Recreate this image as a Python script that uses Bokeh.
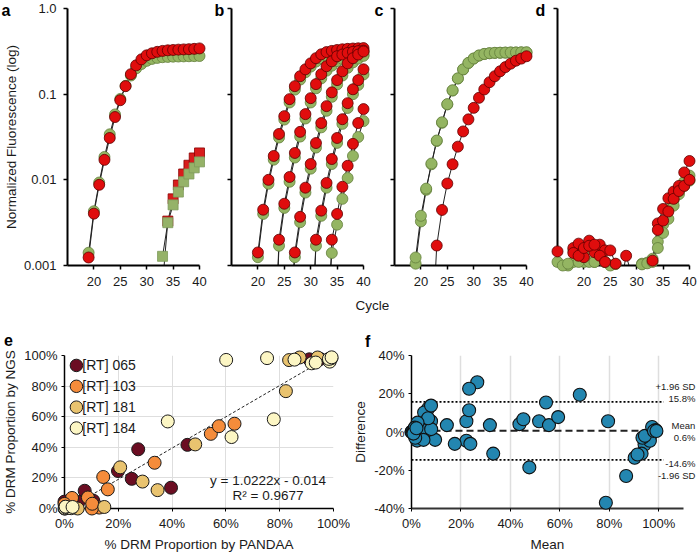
import math
from bokeh.plotting import figure
from bokeh.layouts import column, row
from bokeh.models import Range1d, FixedTicker, Label, NumeralTickFormatter
from bokeh.core.properties import value
from bokeh.embed import file_html
from bokeh.resources import INLINE

N = float("nan")
FONT = "Liberation Sans"

# ---------------- data: qPCR panels (normalized fluorescence) ----------------
A_CYCLES = list(range(19, 41))
A_GREEN = [0.00141, 0.0043, 0.0093, 0.0185, 0.034, 0.058, 0.088, 0.125, 0.165, 0.200, 0.225,
           0.245, 0.258, 0.265, 0.270, 0.272, 0.274, 0.275, 0.276, 0.277, 0.278, 0.279]
A_RED = [0.00124, 0.00403, 0.00875, 0.0171, 0.0308, 0.0541, 0.085, 0.124, 0.171, 0.217, 0.255,
         0.284, 0.300, 0.312, 0.320, 0.325, 0.328, 0.331, 0.333, 0.335, 0.338, 0.342]
A_SQ_CYCLES = list(range(33, 41))
A_RED_SQ = [0.0006, 0.0033, 0.0060, 0.0087, 0.0117, 0.0148, 0.0180, 0.0206]
A_GREEN_SQ = [0.00128, 0.00316, 0.0051, 0.0072, 0.0095, 0.0117, 0.0138, 0.0162]

B_CYCLES = list(range(19, 41))
B_RED = [
    [N, 0.00142, 0.00448, 0.0100, 0.0190, 0.0343, 0.0554, 0.0875, 0.124, 0.162, 0.195, 0.229,
     0.263, 0.292, 0.310, 0.320, 0.328, 0.334, 0.338, 0.341, 0.343, 0.345],
    [N, N, N, N, 5e-5, 0.0020, 0.00526, 0.0108, 0.0206, 0.0363, 0.0585, 0.0898, 0.131, 0.171,
     0.212, 0.242, 0.277, 0.290, 0.303, 0.312, 0.318, 0.322],
    [N, N, N, N, N, N, N, 2e-4, 0.00142, 0.0037, 0.0081, 0.0153, 0.0269, 0.046, 0.0725, 0.105,
     0.146, 0.185, 0.229, 0.263, 0.290, 0.315],
    [N, N, N, N, N, N, N, N, N, N, N, 5e-5, 0.0020, 0.00437, 0.0092, 0.0175, 0.0308, 0.051,
     0.0785, 0.114, 0.146, 0.195],
    [N, N, N, N, N, N, N, N, N, N, N, N, N, N, 5e-5, 0.0020, 0.0040, 0.0083, 0.0146, 0.0263,
     0.046, 0.067],
]
B_GREEN = [
    [N, 0.00125, 0.0040, 0.0090, 0.0172, 0.0312, 0.0505, 0.080, 0.113, 0.148, 0.180, 0.210,
     0.240, 0.262, 0.278, 0.287, 0.293, 0.298, 0.302, 0.305, 0.307, 0.309],
    [N, N, N, N, 5e-5, 0.0017, 0.0047, 0.0095, 0.0182, 0.032, 0.052, 0.080, 0.117, 0.153,
     0.188, 0.215, 0.243, 0.258, 0.270, 0.278, 0.283, 0.287],
    [N, N, N, N, N, N, N, 3e-4, 0.00125, 0.0032, 0.0071, 0.0135, 0.0238, 0.041, 0.064, 0.093,
     0.130, 0.165, 0.203, 0.235, 0.260, 0.280],
    [N, N, N, N, N, N, N, N, N, N, N, 1e-4, 0.0017, 0.0038, 0.0081, 0.0153, 0.027, 0.045,
     0.069, 0.100, 0.128, 0.170],
    [N, N, N, N, N, N, N, N, N, N, N, N, N, N, 2e-4, 0.0014, 0.0030, 0.0060, 0.0105, 0.019,
     0.0316, 0.0485],
]

C_CYCLES = list(range(18, 41))
C_GREEN = [
    [2e-4, 0.00105, 0.00327, 0.00765, 0.0152, 0.0284, 0.0463, 0.0758, 0.110, 0.152, 0.194,
     0.231, 0.260, 0.282, 0.294, 0.300, 0.303, 0.304, 0.305, 0.306, 0.306, 0.307, 0.307],
    [3e-4, 0.00124, 0.0038, 0.0079, 0.0155, 0.0288, 0.047, 0.0765, 0.111, 0.153, 0.195,
     0.232, 0.261, 0.283, 0.295, 0.301, 0.304, 0.305, 0.306, 0.307, 0.307, 0.308, 0.308],
]
C_RED = [
    [N, N, N, N, 1e-4, 0.00171, 0.00445, 0.00906, 0.0152, 0.0244, 0.0367, 0.0508, 0.0692,
     0.0906, 0.1135, 0.138, 0.162, 0.185, 0.207, 0.227, 0.246, 0.260, 0.277],
]

D_CYCLES = list(range(15, 41))
D_GREEN = [
    [0.0011, 0.0009, 0.0010, 0.0011, 0.0015, 0.0011, 0.0018, 0.0011, 0.0013, 0.0011, 0.0010,
     0.0009, 0.0008, 0.0008, 0.0008, 0.0008, 0.00105, 0.00108, 0.0012, 0.0019, 0.0030,
     0.0045, 0.0058, 0.0076, 0.0095, 0.0112],
    [0.0009, 0.0010, 0.00105, 0.0015, 0.0011, 0.0014, 0.0011, 0.0011, 0.0014, 0.0011, 0.0008,
     0.00104, 0.0008, 0.0008, 0.0008, 0.0008, 0.00103, 0.00106, 0.0011, 0.0016, 0.0024,
     0.0035, 0.0050, 0.0068, 0.0085, 0.0098],
]
D_RED = [
    [0.00146, 0.0007, 0.0009, 0.0016, 0.0018, 0.00125, 0.00195, 0.00143, 0.00175, 0.0015,
     0.0015, 0.00105, 0.0006, 0.0013, 0.0008, 0.0007, 0.0008, 0.0009, 0.00114, 0.0031,
     0.00457, 0.0061, 0.0073, 0.0085, 0.0122, 0.0166],
    [0.0008, 0.0008, 0.0009, 0.0014, 0.0013, 0.0016, 0.0017, 0.00175, 0.0013, 0.0011, 0.0009,
     0.0008, 0.0008, 0.0009, 0.0008, 0.0008, 0.0008, 0.0009, 0.0009, 0.0026, 0.00334,
     0.00427, 0.0060, 0.0074, 0.0085, 0.0100],
]

Y_TICKS = [0.001, 0.01, 0.1, 1.0]
Y_TICK_LABELS = ["0.001", "0.01", "0.1", "1.0"]
X_TICKS = [20, 25, 30, 35, 40]

# ---------------- data: DRM proportions (panel e) ----------------
GROUPS = ["[RT] 065", "[RT] 103", "[RT] 181", "[RT] 184"]
PANDAA_065 = [0.396, 0.250, 0.199, 0.274, 0.457, 0.107, 0.053, 0.075, 0.000, 0.010, 0.910, 0.951]
NGS_065 = [0.136, 0.194, 0.245, 0.387, 0.416, 0.051, 0.043, 0.116, 0.045, 0.010, 0.975, 0.977]
PANDAA_103 = [0.144, 0.161, 0.335, 0.544, 0.574, 0.632, 0.129, 0.102, 0.087, 0.028, 0.000, 0.003, 0.103]
NGS_103 = [0.206, 0.125, 0.299, 0.488, 0.538, 0.554, 0.006, 0.000, 0.072, 0.069, 0.030, 0.010, 0.031]
PANDAA_181 = [0.346, 0.290, 0.207, 0.486, 0.823, 0.148, 0.049, 0.835, 0.874, 0.941, 0.010, 0.000]
NGS_181 = [0.120, 0.176, 0.269, 0.419, 0.767, 0.010, 0.000, 0.970, 0.987, 0.987, 0.005, 0.000]
PANDAA_184 = [0.384, 0.621, 0.778, 0.601, 0.753, 0.855, 0.919, 0.934, 0.986, 0.992, 0.983, 0.993,
              0.002, 0.008, 0.015, 0.025, 0.004, 0.030]
NGS_184 = [0.569, 0.467, 0.583, 0.971, 0.983, 0.973, 0.949, 0.954, 0.960, 0.982, 0.978, 0.988,
           0.000, 0.003, 0.005, 0.002, 0.012, 0.010]
FIT_SLOPE = 1.0222
FIT_INTERCEPT = -0.014
FIT_TEXT = "y = 1.0222x - 0.014"
R2_TEXT = "R² = 0.9677"

# ---------------- Bland-Altman limits (panel f) ----------------
BIAS = 0.006
UPPER_LOA = 0.158
LOWER_LOA = -0.146

# ---------------- styles ----------------
RED_FILL, RED_LINE = "#e00d0d", "#5e0000"
GREEN_FILL, GREEN_LINE = "#94b562", "#637f3c"
SQ_RED_FILL, SQ_GREEN_FILL, SQ_GREEN_LINE = "#d81c1c", "#95b268", "#7d9a5a"
CURVE_LINE = "#222222"
GROUP_COLORS = ["#6b0d22", "#f58c3b", "#e9c36f", "#fcf6c4"]
BA_FILL = "#2386b0"
TXT = "#1a1a1a"

YMIN, YMAX = 0.001, 1.0
XMIN, XMAX = 15, 40

# page geometry (px) -- the page has no margin
FT, FB = 8, 265
ROW1_TOP, ROW1_BOTTOM = 0, 316
ROW2_TOP, ROW2_BOTTOM = 316, 554
ET, EB = 355, 509
GEOM = {
    "a": (0, 67, 199, 213),
    "b": (213, 231, 363, 389),
    "c": (389, 394, 526, 534),
    "d": (534, 557, 689, 700),
}


def px_to_cycle(page_x, key):
    fl, fr = GEOM[key][1], GEOM[key][2]
    return XMIN + (page_x - fl) * (XMAX - XMIN) / (fr - fl)


def py_to_log(page_y):
    return 10 ** (math.log10(YMAX) - (page_y - FT) / (FB - FT) * (math.log10(YMAX) - math.log10(YMIN)))


def style_axes(p, tick_size):
    for ax in p.axis:
        ax.axis_line_color = "black"
        ax.major_tick_line_color = "black"
        ax.minor_tick_line_color = None
        ax.major_tick_in = 0
        ax.major_label_text_font = FONT
        ax.major_label_text_font_size = tick_size
        ax.major_label_text_color = TXT
        ax.axis_label_text_font = FONT
        ax.axis_label_text_font_style = "normal"
        ax.axis_label_text_color = TXT


def curve_series(p, cycles, values, marker, size, fill, line):
    p.line(cycles, values, line_color=CURVE_LINE, line_width=1)
    xs = [c for c, v in zip(cycles, values) if v == v and v >= YMIN * 0.999]
    ys = [v for v in values if v == v and v >= YMIN * 0.999]
    p.scatter(xs, ys, marker=marker, size=size, fill_color=fill, line_color=line,
              line_width=0.8, level="overlay")


def free_text(p, x, y, txt, size, align="left", bold=False):
    p.text(x=[x], y=[y], text=[txt], text_font=value(FONT), text_font_size=value(size),
           text_font_style="bold" if bold else "normal", text_align=align,
           text_baseline="middle", text_color="black" if bold else TXT, level="overlay")


def qpcr_fig(key):
    cl, fl, fr, cr = GEOM[key]
    p = figure(width=cr - cl, height=ROW1_BOTTOM - ROW1_TOP,
               x_range=Range1d(XMIN, XMAX), y_range=Range1d(YMIN, YMAX), y_axis_type="log",
               toolbar_location=None, output_backend="svg",
               min_border_left=fl - cl, min_border_right=cr - fr,
               min_border_top=FT - ROW1_TOP, min_border_bottom=ROW1_BOTTOM - FB,
               outline_line_color=None)
    p.grid.visible = False
    style_axes(p, "13px")
    p.xaxis.ticker = FixedTicker(ticks=X_TICKS)
    p.yaxis.ticker = FixedTicker(ticks=Y_TICKS)
    if key == "a":
        p.yaxis.major_label_overrides = dict(zip(Y_TICKS, Y_TICK_LABELS))
        p.yaxis.axis_label = "Normalized Fluorescence (log)"
        p.yaxis.axis_label_text_font_size = "13.5px"
        p.yaxis.axis_label_standoff = 2
        p.yaxis.major_label_standoff = 7
    else:
        p.yaxis.major_label_overrides = {t: "" for t in Y_TICKS}
        p.yaxis.major_label_standoff = 0
    for ax in p.axis:
        ax.axis_line_width = 2
        ax.major_tick_line_width = 1.5
        ax.major_tick_out = 4
    p.xaxis.major_label_standoff = 7
    return p


def letter(p, key, host_key, page_x):
    free_text(p, px_to_cycle(page_x, host_key), py_to_log(10), key, "16px", bold=True)


# ---------- panel a ----------
pa = qpcr_fig("a")
letter(pa, "a", "a", 1)
curve_series(pa, A_CYCLES, A_GREEN, "circle", 11, GREEN_FILL, GREEN_LINE)
curve_series(pa, A_CYCLES, A_RED, "circle", 11, RED_FILL, RED_LINE)
curve_series(pa, A_SQ_CYCLES, A_RED_SQ, "square", 10, SQ_RED_FILL, "#8a0000")
curve_series(pa, A_SQ_CYCLES, A_GREEN_SQ, "square", 10, SQ_GREEN_FILL, SQ_GREEN_LINE)

# ---------- panel b (also hosts the shared "Cycle" label and the "c" letter) ----------
pb = qpcr_fig("b")
letter(pb, "b", "b", 214)
letter(pb, "c", "b", 374)
free_text(pb, px_to_cycle(372, "b"), py_to_log(305), "Cycle", "13.5px", align="center")
for g, r in zip(B_GREEN, B_RED):
    curve_series(pb, B_CYCLES, g, "circle", 11, GREEN_FILL, GREEN_LINE)
    curve_series(pb, B_CYCLES, r, "circle", 11, RED_FILL, RED_LINE)

# ---------- panel c ----------
pc = qpcr_fig("c")
for g in C_GREEN:
    curve_series(pc, C_CYCLES, g, "circle", 11, GREEN_FILL, GREEN_LINE)
for r in C_RED:
    curve_series(pc, C_CYCLES, r, "circle", 11, RED_FILL, RED_LINE)

# ---------- panel d ----------
pd_ = qpcr_fig("d")
letter(pd_, "d", "d", 535)
for g in D_GREEN:
    curve_series(pd_, D_CYCLES, g, "circle", 11, GREEN_FILL, GREEN_LINE)
for r in D_RED:
    curve_series(pd_, D_CYCLES, r, "circle", 11, RED_FILL, RED_LINE)

# ---------- panel e ----------
E_CL, E_FL, E_FR, E_CR = 0, 62, 333, 350
pe = figure(width=E_CR - E_CL, height=ROW2_BOTTOM - ROW2_TOP,
            x_range=Range1d(0, 1), y_range=Range1d(0, 1),
            toolbar_location=None, output_backend="svg",
            min_border_left=E_FL - E_CL, min_border_right=E_CR - E_FR,
            min_border_top=ET - ROW2_TOP, min_border_bottom=ROW2_BOTTOM - EB,
            outline_line_color=None)
style_axes(pe, "13px")
PCT_TICKS = [0, 0.2, 0.4, 0.6, 0.8, 1.0]
pe.xaxis.ticker = FixedTicker(ticks=PCT_TICKS)
pe.yaxis.ticker = FixedTicker(ticks=PCT_TICKS)
pe.xaxis.formatter = NumeralTickFormatter(format="0%")
pe.yaxis.formatter = NumeralTickFormatter(format="0%")
pe.xgrid.ticker = FixedTicker(ticks=PCT_TICKS)
pe.ygrid.ticker = FixedTicker(ticks=PCT_TICKS)
pe.grid.grid_line_color = "#dedede"
pe.grid.grid_line_width = 1
for ax in pe.axis:
    ax.axis_line_width = 1.5
    ax.major_tick_out = 3
    ax.major_label_standoff = 4
    ax.axis_label_standoff = 3
    ax.axis_label_text_font_size = "13.5px"
pe.xaxis.axis_label = "% DRM Proportion by PANDAA"
pe.yaxis.axis_label = "% DRM Proportion by NGS"

e_sets = [(PANDAA_065, NGS_065), (PANDAA_103, NGS_103), (PANDAA_181, NGS_181), (PANDAA_184, NGS_184)]
all_p = [v for s in e_sets for v in s[0]]
fit_x = [min(all_p), max(all_p)]
fit_y = [FIT_SLOPE * x + FIT_INTERCEPT for x in fit_x]
pe.line(fit_x, fit_y, line_color="#222222", line_width=1, line_dash="3 2")
for (pp, nn), col in zip(e_sets, GROUP_COLORS):
    pe.scatter(pp, nn, marker="circle", size=13, fill_color=col, line_color="#1a1a1a",
               line_width=1, level="overlay")

E_W, E_H = E_FR - E_FL, EB - ET
LEG_X, LEG_TX, LEG_Y0, LEG_DY = 12 / E_W, 18 / E_W, 1 - 10 / E_H, 21 / E_H
for i, (name, col) in enumerate(zip(GROUPS, GROUP_COLORS)):
    yy = LEG_Y0 - i * LEG_DY
    pe.scatter([LEG_X], [yy], marker="circle", size=12.5, fill_color=col,
               line_color="#1a1a1a", line_width=1, level="overlay")
    pe.add_layout(Label(x=LEG_TX, y=yy, text=name, text_align="left", text_baseline="middle",
                        text_font=FONT, text_font_size="14px", text_color=TXT))
pe.add_layout(Label(x=(267 - 62) / 271, y=0.186, text=FIT_TEXT, text_align="center",
                    text_baseline="middle", text_font=FONT, text_font_size="13.5px", text_color=TXT))
pe.add_layout(Label(x=(267 - 62) / 271, y=0.088, text=R2_TEXT, text_align="center",
                    text_baseline="middle", text_font=FONT, text_font_size="13.5px", text_color=TXT))
free_text(pe, (1 - E_FL) / E_W, (EB - 339) / E_H, "e", "16px", bold=True)

# ---------- panel f ----------
F_CL, F_FL, F_FR, F_CR = 350, 408, 683, 700
FX0, FX1, FY0, FY1 = 0, 1.1, -0.4, 0.4
pf = figure(width=F_CR - F_CL, height=ROW2_BOTTOM - ROW2_TOP,
            x_range=Range1d(FX0, FX1), y_range=Range1d(FY0, FY1),
            toolbar_location=None, output_backend="svg",
            min_border_left=F_FL - F_CL, min_border_right=F_CR - F_FR,
            min_border_top=ET - ROW2_TOP, min_border_bottom=ROW2_BOTTOM - EB,
            outline_line_color=None)
style_axes(pf, "13px")
pf.xaxis.ticker = FixedTicker(ticks=PCT_TICKS)
pf.yaxis.ticker = FixedTicker(ticks=[-0.4, -0.2, 0, 0.2, 0.4])
pf.xaxis.formatter = NumeralTickFormatter(format="0%")
pf.yaxis.formatter = NumeralTickFormatter(format="0%")
pf.xgrid.ticker = FixedTicker(ticks=[0.2, 0.4, 0.6, 0.8, 1.0])
pf.ygrid.ticker = FixedTicker(ticks=[0.4])
pf.grid.grid_line_color = "#dedede"
pf.grid.grid_line_width = 1.5
for ax in pf.axis:
    ax.major_tick_out = 3
    ax.major_label_standoff = 4
    ax.axis_label_standoff = 3
    ax.axis_label_text_font_size = "13.5px"
pf.yaxis.axis_line_width = 1.5
pf.xaxis.axis_line_width = 2
pf.xaxis.axis_line_color = "#333333"
pf.xaxis.axis_label = "Mean"
pf.yaxis.axis_label = "Difference"

pf.line([0, 1.02], [UPPER_LOA, UPPER_LOA], line_color="black", line_width=1.8, line_dash="2 2")
pf.line([0, 1.02], [LOWER_LOA, LOWER_LOA], line_color="black", line_width=1.8, line_dash="2 2")
pf.line([0, 1.02], [BIAS, BIAS], line_color="#222222", line_width=2, line_dash="7 4")

ba_mean, ba_diff = [], []
for pp, nn in e_sets:
    for a_, b_ in zip(pp, nn):
        ba_mean.append((a_ + b_) / 2)
        ba_diff.append(a_ - b_)
pf.scatter(ba_mean, ba_diff, marker="circle", size=13, fill_color=BA_FILL, line_color="#111111",
           line_width=1.1, level="overlay")

F_PXU = (F_FR - F_FL) / (FX1 - FX0)
F_PYU = (EB - ET) / (FY1 - FY0)
lab_x = (695 - F_FL) / F_PXU
for txt, base, off in [("+1.96 SD", UPPER_LOA, 15), (f"{UPPER_LOA*100:.1f}%", UPPER_LOA, 3),
                       ("Mean", BIAS, 5), (f"{BIAS*100:.1f}%", BIAS, -7),
                       (f"{LOWER_LOA*100:.1f}%", LOWER_LOA, -4), ("-1.96 SD", LOWER_LOA, -16)]:
    free_text(pf, lab_x, base + off / F_PYU, txt, "9.5px", align="right")
free_text(pf, (361 - F_FL) / F_PXU, FY1 + (ET - 341) / F_PYU, "f", "16px", bold=True)

layout = column(row(pa, pb, pc, pd_), row(pe, pf))
open("out.html", "w").write(file_html(layout, INLINE, "chart"))
